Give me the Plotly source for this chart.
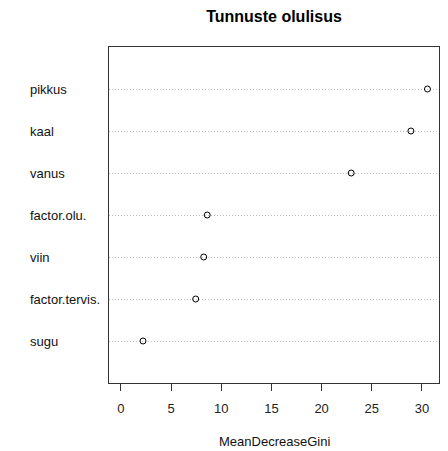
import plotly.graph_objects as go

# Data (top to bottom as shown)
features = ["pikkus", "kaal", "vanus", "factor.olu.", "viin", "factor.tervis.", "sugu"]
gini = [30.55, 28.9, 22.95, 8.6, 8.25, 7.45, 2.2]
x_ticks = [0, 5, 10, 15, 20, 25, 30]

n = len(features)
ypos = [n - i for i in range(n)]  # pikkus at top

W, H = 448, 451
ml, mr, mt, mb = 109, 9, 47, 68
pw = W - ml - mr
ph = H - mt - mb

FONT = "Liberation Sans, Arial"

fig = go.Figure()
fig.add_trace(go.Scatter(
    x=gini, y=ypos, mode="markers",
    marker=dict(symbol="circle-open", size=6, color="black", line=dict(width=1, color="black")),
    showlegend=False, hoverinfo="skip",
))

for lab, y in zip(features, ypos):
    fig.add_annotation(
        x=(28 - ml) / pw, xref="paper", y=y, yref="y",
        text=lab, showarrow=False, xanchor="left", yanchor="middle",
        font=dict(family=FONT, size=13, color="#111"),
    )

fig.add_annotation(
    x=0.5, xref="paper", y=-(441 - (mt + ph)) / ph, yref="paper",
    text="MeanDecreaseGini", showarrow=False, xanchor="center", yanchor="middle",
    font=dict(family=FONT, size=13, color="#111"),
)

fig.update_layout(
    width=W, height=H,
    margin=dict(l=ml, r=mr, t=mt, b=mb, autoexpand=False),
    paper_bgcolor="white", plot_bgcolor="white",
    font=dict(family=FONT, size=13, color="#111"),
    title=dict(text="<b>Tunnuste olulisus</b>", x=(ml + pw / 2) / W, xanchor="center",
               y=1 - 16 / H, yanchor="middle",
               font=dict(family=FONT, size=16, color="black")),
    xaxis=dict(
        range=[-1.19, 31.7], tickvals=x_ticks, ticktext=[str(t) for t in x_ticks],
        ticks="outside", ticklen=7, tickcolor="#333", showgrid=False, zeroline=False,
        showline=True, linecolor="#333", linewidth=1, mirror=True,
        ticklabelstandoff=6, automargin=False,
        tickfont=dict(size=13, color="#222"),
    ),
    yaxis=dict(
        range=[0, n + 1], tickvals=ypos, showticklabels=False, ticks="",
        showgrid=True, gridcolor="#c0c0c0", griddash="1px,2px", gridwidth=1, zeroline=False,
        showline=True, linecolor="#333", linewidth=1, mirror=True, automargin=False,
    ),
)

fig.write_html("out.html")
